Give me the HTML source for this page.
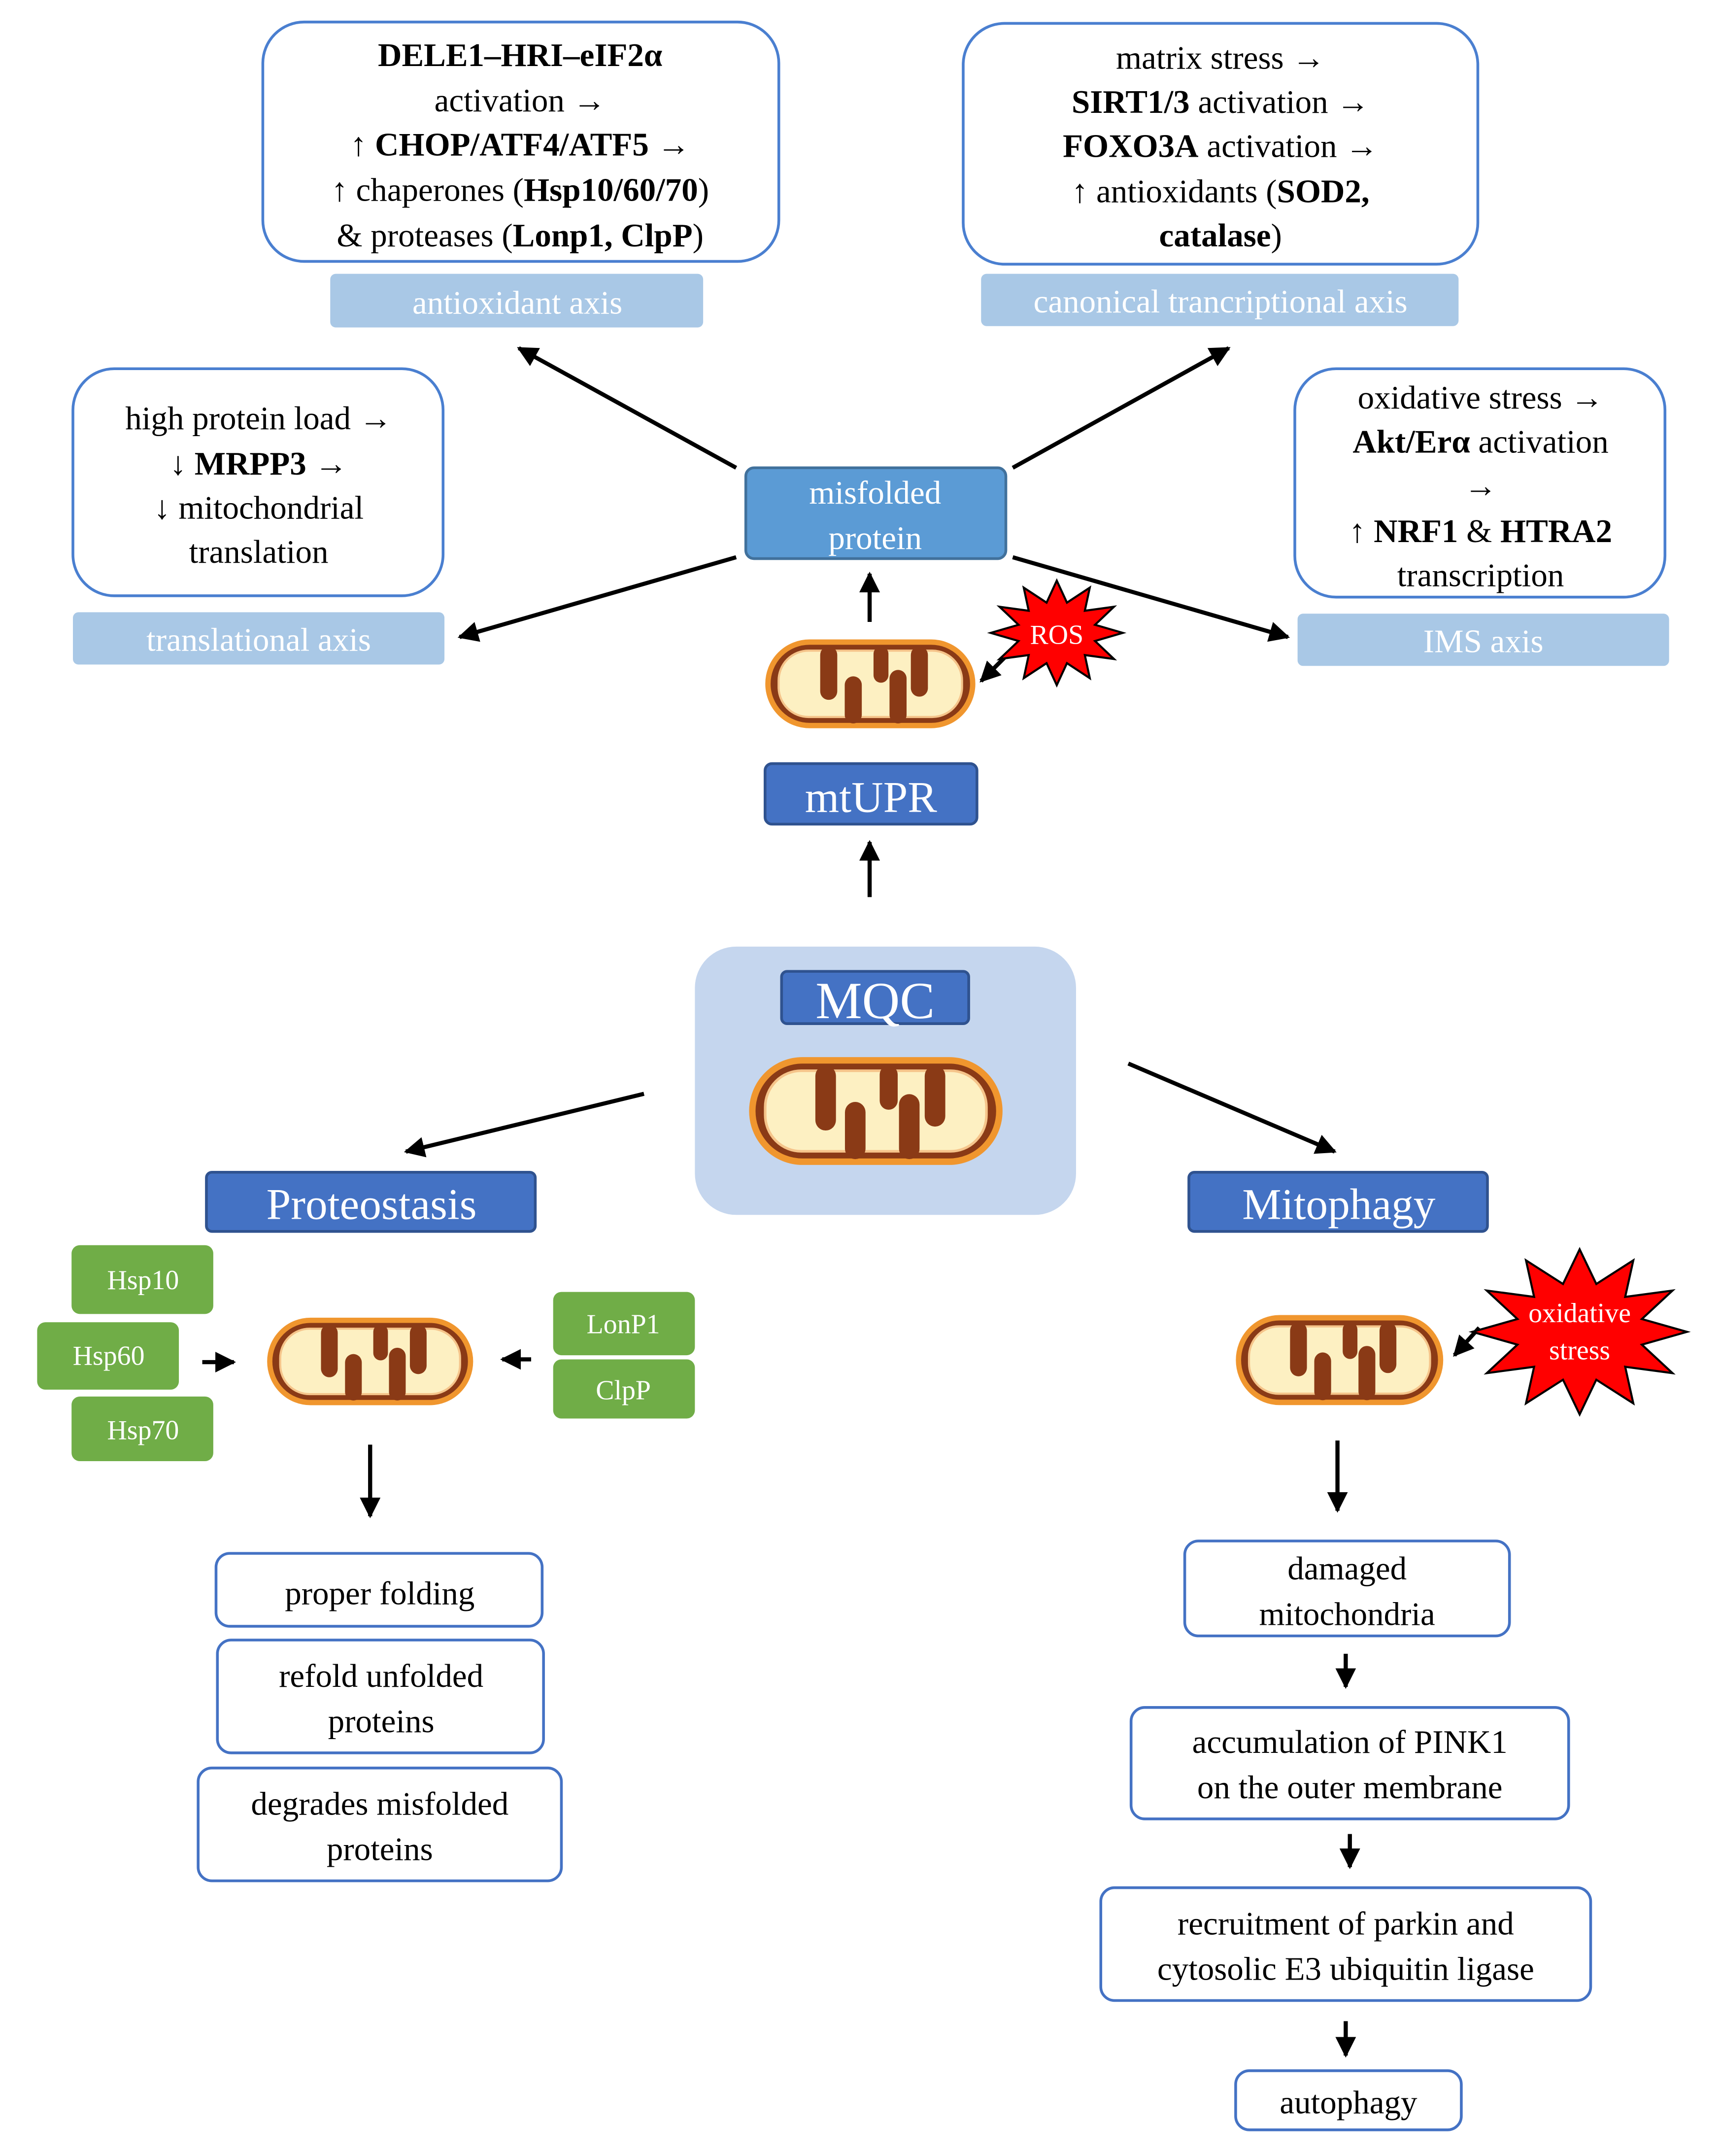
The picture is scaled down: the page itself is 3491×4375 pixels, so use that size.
<!DOCTYPE html>
<html><head><meta charset="utf-8"><style>html,body{margin:0;padding:0;background:#fff}svg{display:block}svg text{font-family:"Liberation Serif","Times New Roman",serif}</style></head>
<body>
<svg xmlns="http://www.w3.org/2000/svg" width="3491" height="4375" viewBox="0 0 1250 1567" preserveAspectRatio="none">
<defs>
<marker id="ah" viewBox="0 0 10 10" refX="9" refY="5" markerWidth="5" markerHeight="5" orient="auto"><path d="M0,0 L10,5 L0,10 z" fill="#000"/></marker>
<symbol id="mito" viewBox="0 0 200 90" preserveAspectRatio="none">
<rect x="4" y="6" width="192" height="78" rx="39" fill="#8a3a16" stroke="#f0962e" stroke-width="5"/>
<rect x="14" y="14" width="172" height="62" rx="28" fill="#fdf0c2" stroke="#f5c48a" stroke-width="2"/>
<rect x="53" y="10" width="16" height="50" rx="8" fill="#8a3a16"/>
<rect x="103" y="10" width="14" height="34" rx="7" fill="#8a3a16"/>
<rect x="138" y="10" width="16" height="47" rx="8" fill="#8a3a16"/>
<rect x="76" y="38" width="16" height="44" rx="8" fill="#8a3a16"/>
<rect x="118" y="32" width="16" height="50" rx="8" fill="#8a3a16"/>
</symbol>
</defs>
<g fill="#fff" stroke="#4a7fd0" stroke-width="2">
<rect x="191" y="16" width="375" height="174" rx="30"/>
<rect x="700" y="17" width="374" height="175" rx="30"/>
<rect x="53" y="268" width="269" height="165" rx="30"/>
<rect x="941" y="268" width="269" height="166" rx="30"/>
</g>
<g fill="#a9c8e6">
<rect x="240" y="199" width="271" height="39" rx="4"/>
<rect x="713" y="199" width="347" height="38" rx="4"/>
<rect x="53" y="445" width="270" height="38" rx="4"/>
<rect x="943" y="446" width="270" height="38" rx="4"/>
</g>
<g font-size="24" text-anchor="middle" fill="#000">
<text x="378" y="48"><tspan font-weight="bold">DELE1–HRI–eIF2α</tspan></text>
<text x="378" y="81">activation →</text>
<text x="378" y="113">↑ <tspan font-weight="bold">CHOP/ATF4/ATF5</tspan> →</text>
<text x="378" y="146">↑ chaperones (<tspan font-weight="bold">Hsp10/60/70</tspan>)</text>
<text x="378" y="179">&amp; proteases (<tspan font-weight="bold">Lonp1, ClpP</tspan>)</text>
<text x="887" y="50">matrix stress →</text>
<text x="887" y="82"><tspan font-weight="bold">SIRT1/3</tspan> activation →</text>
<text x="887" y="114"><tspan font-weight="bold">FOXO3A</tspan> activation →</text>
<text x="887" y="147">↑ antioxidants (<tspan font-weight="bold">SOD2,</tspan></text>
<text x="887" y="179"><tspan font-weight="bold">catalase</tspan>)</text>
<text x="188" y="312">high protein load →</text>
<text x="188" y="345">↓ <tspan font-weight="bold">MRPP3</tspan> →</text>
<text x="188" y="377">↓ mitochondrial</text>
<text x="188" y="409">translation</text>
<text x="1076" y="297">oxidative stress →</text>
<text x="1076" y="329"><tspan font-weight="bold">Akt/Erα</tspan> activation</text>
<text x="1076" y="361">→</text>
<text x="1076" y="394">↑ <tspan font-weight="bold">NRF1</tspan> &amp; <tspan font-weight="bold">HTRA2</tspan></text>
<text x="1076" y="426">transcription</text>
</g>
<g font-size="24" text-anchor="middle" fill="#fff">
<text x="376" y="228">antioxidant axis</text>
<text x="887" y="227">canonical trancriptional axis</text>
<text x="188" y="473">translational axis</text>
<text x="1078" y="474">IMS axis</text>
</g>
<rect x="542" y="340" width="189" height="66" rx="6" fill="#5b9bd5" stroke="#41719c" stroke-width="2"/>
<text x="636" y="366" font-size="24" fill="#fff" text-anchor="middle">misfolded</text>
<text x="636" y="399" font-size="24" fill="#fff" text-anchor="middle">protein</text>
<g stroke="#000" stroke-width="3" marker-end="url(#ah)">
<line x1="535" y1="340" x2="377" y2="253"/>
<line x1="736" y1="340" x2="893" y2="253"/>
<line x1="535" y1="405" x2="334" y2="463"/>
<line x1="736" y1="405" x2="936" y2="463"/>
<line x1="632" y1="452" x2="632" y2="417"/>
<line x1="730" y1="478" x2="713" y2="495"/>
<line x1="632" y1="652" x2="632" y2="612"/>
<line x1="468" y1="795" x2="295" y2="837"/>
<line x1="820" y1="773" x2="970" y2="837"/>
<line x1="147" y1="990" x2="170" y2="990"/>
<line x1="386" y1="988" x2="365" y2="988"/>
<line x1="269" y1="1050" x2="269" y2="1102"/>
<line x1="1075" y1="965" x2="1057" y2="985"/>
<line x1="972" y1="1047" x2="972" y2="1098"/>
<line x1="978" y1="1202" x2="978" y2="1226"/>
<line x1="981" y1="1333" x2="981" y2="1357"/>
<line x1="978" y1="1469" x2="978" y2="1494"/>
</g>
<use href="#mito" x="555" y="462" width="155" height="70"/>
<polygon fill="#f00" stroke="#000" stroke-width="1.5" points="816,460 795.8,465.9 809.6,479 788.4,476.1 792,492.9 775.4,482 768,498 760.6,482 744,492.9 747.6,476.1 726.4,479 740.2,465.9 720,460 740.2,454.1 726.4,441 747.6,443.9 744,427.1 760.6,438 768,422 775.4,438 792,427.1 788.4,443.9 809.6,441 795.8,454.1"/>
<text x="768" y="468" font-size="20" fill="#fff" text-anchor="middle">ROS</text>
<rect x="556" y="555" width="154" height="44" rx="5" fill="#4472c4" stroke="#2f528f" stroke-width="2"/>
<text x="633" y="590" font-size="32" fill="#fff" text-anchor="middle">mtUPR</text>
<rect x="505" y="688" width="277" height="195" rx="30" fill="#c5d6ee"/>
<rect x="568" y="706" width="136" height="38" rx="4" fill="#4472c4" stroke="#2f528f" stroke-width="2"/>
<text x="636" y="740" font-size="38" fill="#fff" text-anchor="middle">MQC</text>
<use href="#mito" x="543" y="765" width="187" height="85"/>
<rect x="150" y="852" width="239" height="43" rx="4" fill="#4472c4" stroke="#2f528f" stroke-width="2"/>
<text x="270" y="886" font-size="32" fill="#fff" text-anchor="middle">Proteostasis</text>
<rect x="864" y="852" width="217" height="43" rx="4" fill="#4472c4" stroke="#2f528f" stroke-width="2"/>
<text x="973" y="886" font-size="32" fill="#fff" text-anchor="middle">Mitophagy</text>
<g fill="#70ad47">
<rect x="52" y="905" width="103" height="50" rx="6"/>
<rect x="27" y="961" width="103" height="49" rx="6"/>
<rect x="52" y="1015" width="103" height="47" rx="6"/>
<rect x="402" y="939" width="103" height="46" rx="6"/>
<rect x="402" y="988" width="103" height="43" rx="6"/>
</g>
<g font-size="20" fill="#fff" text-anchor="middle">
<text x="104" y="937">Hsp10</text>
<text x="79" y="992">Hsp60</text>
<text x="104" y="1046">Hsp70</text>
<text x="453" y="969">LonP1</text>
<text x="453" y="1017">ClpP</text>
</g>
<use href="#mito" x="193" y="955" width="152" height="69"/>
<use href="#mito" x="897" y="953" width="153" height="71"/>
<polygon fill="#f00" stroke="#000" stroke-width="1.5" points="1226,968 1193.2,977.3 1215.5,998 1181.1,993.4 1187,1020 1160.1,1002.8 1148,1028 1135.9,1002.8 1109,1020 1114.9,993.4 1080.5,998 1102.8,977.3 1070,968 1102.8,958.7 1080.5,938 1114.9,942.6 1109,916 1135.9,933.2 1148,908 1160.1,933.2 1187,916 1181.1,942.6 1215.5,938 1193.2,958.7"/>
<text x="1148" y="961" font-size="20" fill="#fff" text-anchor="middle">oxidative</text>
<text x="1148" y="988" font-size="20" fill="#fff" text-anchor="middle">stress</text>
<g fill="#fff" stroke="#4472c4" stroke-width="2">
<rect x="157" y="1129" width="237" height="53" rx="10"/>
<rect x="158" y="1192" width="237" height="82" rx="10"/>
<rect x="144" y="1285" width="264" height="82" rx="10"/>
<rect x="861" y="1120" width="236" height="69" rx="10"/>
<rect x="822" y="1241" width="318" height="81" rx="10"/>
<rect x="800" y="1372" width="356" height="82" rx="10"/>
<rect x="898" y="1505" width="164" height="43" rx="10"/>
</g>
<g font-size="24" text-anchor="middle" fill="#000">
<text x="276" y="1166">proper folding</text>
<text x="277" y="1226">refold unfolded</text>
<text x="277" y="1259">proteins</text>
<text x="276" y="1319">degrades misfolded</text>
<text x="276" y="1352">proteins</text>
<text x="979" y="1148">damaged</text>
<text x="979" y="1181">mitochondria</text>
<text x="981" y="1274">accumulation of PINK1</text>
<text x="981" y="1307">on the outer membrane</text>
<text x="978" y="1406">recruitment of parkin and</text>
<text x="978" y="1439">cytosolic E3 ubiquitin ligase</text>
<text x="980" y="1536">autophagy</text>
</g>
</svg>
</body></html>
